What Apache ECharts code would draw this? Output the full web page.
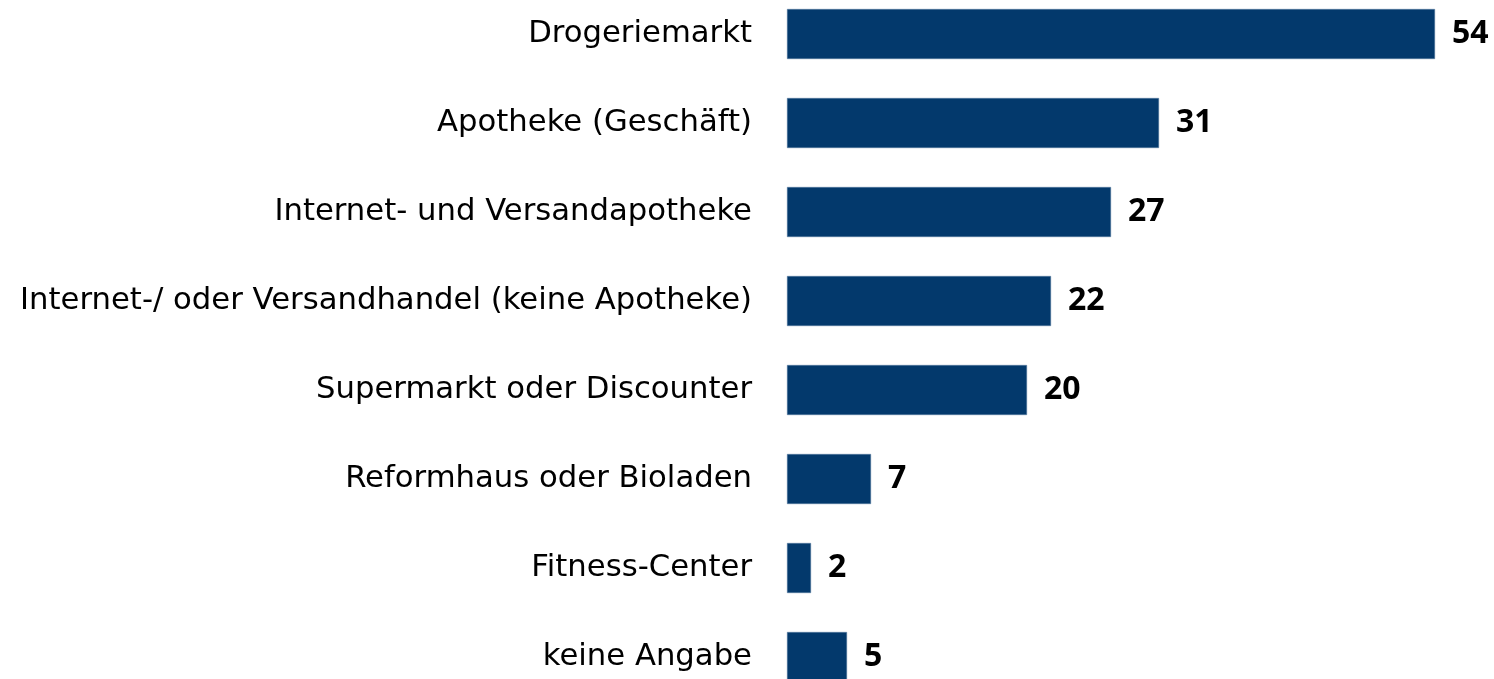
<!DOCTYPE html>
<html>
<head>
<meta charset="utf-8">
<script src="https://cdn.jsdelivr.net/npm/echarts@6/dist/echarts.min.js"></script>
<style>
html,body{margin:0;padding:0;background:#fff;}
#chart{width:1494px;height:679px;}
</style>
</head>
<body>
<div id="chart"></div>
<script>
const categories = [
  "Drogeriemarkt",
  "Apotheke (Geschäft)",
  "Internet- und Versandapotheke",
  "Internet-/ oder Versandhandel (keine Apotheke)",
  "Supermarkt oder Discounter",
  "Reformhaus oder Bioladen",
  "Fitness-Center",
  "keine Angabe"
];
const values = [54, 31, 27, 22, 20, 7, 2, 5];

const chart = echarts.init(document.getElementById('chart'));
chart.setOption({
  animation: false,
  grid: { left: 787, top: -10.5, width: 648, height: 712, containLabel: false, outerBoundsMode: 'none' },
  xAxis: { type: 'value', min: 0, max: 54, show: false },
  yAxis: {
    type: 'category', data: categories, inverse: true,
    axisLine: { show: false }, axisTick: { show: false },
    axisLabel: { margin: 35, color: '#000', fontFamily: 'DejaVu Sans', fontSize: 30.7, padding: [3, 0, 0, 0] }
  },
  series: [{
    type: 'bar', data: values, barWidth: 50,
    itemStyle: { color: '#03396C', borderColor: '#5a7fa3', borderWidth: 0.5 },
    label: { show: true, position: 'right', distance: 17, color: '#000',
      fontFamily: 'Open Sans', fontWeight: 'bold', fontSize: 32, padding: [4, 0, 0, 0] }
  }]
});
</script>
</body>
</html>
